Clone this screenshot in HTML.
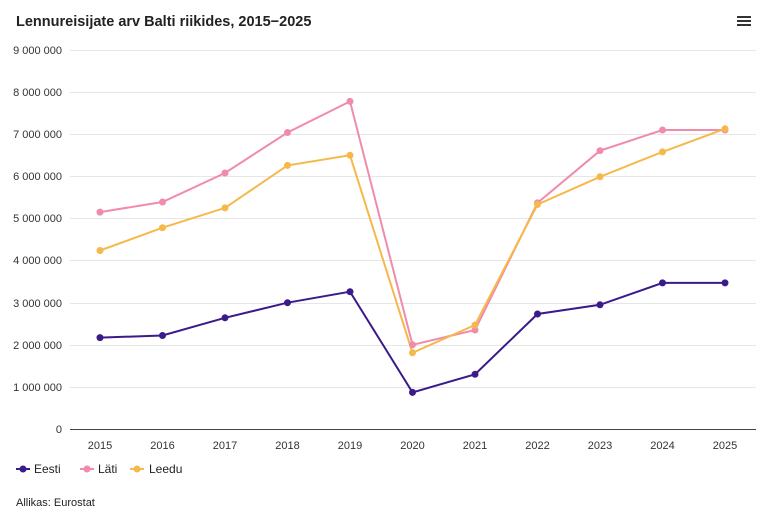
<!DOCTYPE html>
<html><head><meta charset="utf-8"><style>
body{margin:0;background:#fff;}
svg{display:block;font-family:"Liberation Sans",sans-serif;}
</style></head><body>
<svg width="768" height="518" viewBox="0 0 768 518">
<text x="16" y="26" font-size="14.5" font-weight="bold" fill="#222">Lennureisijate arv Balti riikides, 2015−2025</text>
<g fill="#333"><rect x="737" y="16" width="14" height="2"/><rect x="737" y="20" width="14" height="2"/><rect x="737" y="24" width="14" height="2"/></g>
<g stroke="#e6e6e6" stroke-width="1">
<line x1="70" x2="756" y1="50.5" y2="50.5"/><line x1="70" x2="756" y1="92.5" y2="92.5"/>
<line x1="70" x2="756" y1="134.5" y2="134.5"/><line x1="70" x2="756" y1="176.5" y2="176.5"/>
<line x1="70" x2="756" y1="218.5" y2="218.5"/><line x1="70" x2="756" y1="260.5" y2="260.5"/>
<line x1="70" x2="756" y1="303.5" y2="303.5"/><line x1="70" x2="756" y1="345.5" y2="345.5"/>
<line x1="70" x2="756" y1="387.5" y2="387.5"/>
</g>
<line x1="70" x2="756" y1="429.5" y2="429.5" stroke="#444" stroke-width="1"/>
<g font-size="11" fill="#333" text-anchor="end">
<text x="62" y="54">9 000 000</text><text x="62" y="96">8 000 000</text><text x="62" y="138">7 000 000</text>
<text x="62" y="180">6 000 000</text><text x="62" y="222">5 000 000</text><text x="62" y="264">4 000 000</text>
<text x="62" y="307">3 000 000</text><text x="62" y="349">2 000 000</text><text x="62" y="391">1 000 000</text>
<text x="62" y="433">0</text>
</g>
<g font-size="11" fill="#333" text-anchor="middle">
<text x="100" y="449">2015</text><text x="162.5" y="449">2016</text><text x="225" y="449">2017</text>
<text x="287.5" y="449">2018</text><text x="350" y="449">2019</text><text x="412.5" y="449">2020</text>
<text x="475" y="449">2021</text><text x="537.5" y="449">2022</text><text x="600" y="449">2023</text>
<text x="662.5" y="449">2024</text><text x="725" y="449">2025</text>
</g>
<g fill="none" stroke-width="2">
<polyline stroke="#f08bab" points="100,212.1 162.5,202 225,173 287.5,132.5 350,101.4 412.5,344.8 475,330 537.5,202.9 600,150.7 662.5,130 725,130"/>
<polyline stroke="#f7b84b" points="100,250.5 162.5,227.7 225,207.9 287.5,165.4 350,155.3 412.5,352.8 475,325 537.5,204.5 600,176.8 662.5,151.9 725,128.8"/>
<polyline stroke="#3b1a8a" points="100,337.6 162.5,335.5 225,317.8 287.5,302.7 350,291.7 412.5,392.4 475,374.3 537.5,314 600,304.8 662.5,282.9 725,282.9"/>
</g>
<g fill="#f08bab">
<circle cx="100" cy="212.1" r="3.5"/><circle cx="162.5" cy="202" r="3.5"/><circle cx="225" cy="173" r="3.5"/><circle cx="287.5" cy="132.5" r="3.5"/><circle cx="350" cy="101.4" r="3.5"/><circle cx="412.5" cy="344.8" r="3.5"/><circle cx="475" cy="330" r="3.5"/><circle cx="537.5" cy="202.9" r="3.5"/><circle cx="600" cy="150.7" r="3.5"/><circle cx="662.5" cy="130" r="3.5"/><circle cx="725" cy="130" r="3.5"/>
</g>
<g fill="#f7b84b">
<circle cx="100" cy="250.5" r="3.5"/><circle cx="162.5" cy="227.7" r="3.5"/><circle cx="225" cy="207.9" r="3.5"/><circle cx="287.5" cy="165.4" r="3.5"/><circle cx="350" cy="155.3" r="3.5"/><circle cx="412.5" cy="352.8" r="3.5"/><circle cx="475" cy="325" r="3.5"/><circle cx="537.5" cy="204.5" r="3.5"/><circle cx="600" cy="176.8" r="3.5"/><circle cx="662.5" cy="151.9" r="3.5"/><circle cx="725" cy="128.8" r="3.5"/>
</g>
<g fill="#3b1a8a">
<circle cx="100" cy="337.6" r="3.5"/><circle cx="162.5" cy="335.5" r="3.5"/><circle cx="225" cy="317.8" r="3.5"/><circle cx="287.5" cy="302.7" r="3.5"/><circle cx="350" cy="291.7" r="3.5"/><circle cx="412.5" cy="392.4" r="3.5"/><circle cx="475" cy="374.3" r="3.5"/><circle cx="537.5" cy="314" r="3.5"/><circle cx="600" cy="304.8" r="3.5"/><circle cx="662.5" cy="282.9" r="3.5"/><circle cx="725" cy="282.9" r="3.5"/>
</g>
<g font-size="12" fill="#222">
<line x1="16" x2="30" y1="469" y2="469" stroke="#3b1a8a" stroke-width="2"/><circle cx="23" cy="469" r="3.5" fill="#3b1a8a"/>
<text x="34" y="473">Eesti</text>
<line x1="80" x2="94" y1="469" y2="469" stroke="#f08bab" stroke-width="2"/><circle cx="87" cy="469" r="3.5" fill="#f08bab"/>
<text x="98" y="473">Läti</text>
<line x1="130" x2="144" y1="469" y2="469" stroke="#f7b84b" stroke-width="2"/><circle cx="137" cy="469" r="3.5" fill="#f7b84b"/>
<text x="149" y="473">Leedu</text>
</g>
<text x="16" y="506" font-size="11" fill="#222">Allikas: Eurostat</text>
</svg>
</body></html>
